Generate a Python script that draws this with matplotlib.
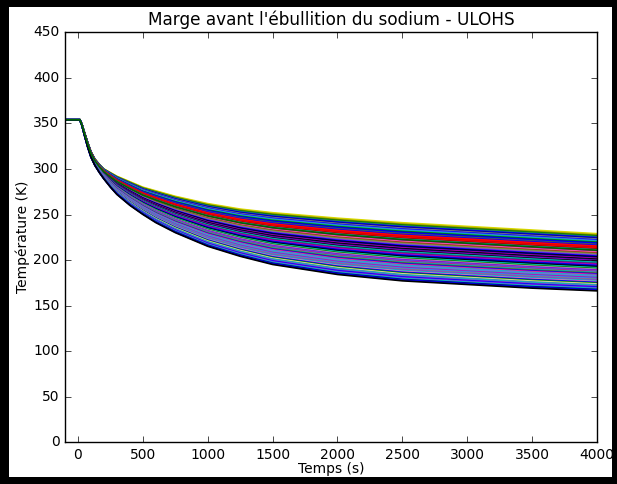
import numpy as np
import matplotlib
matplotlib.use('Agg')
import matplotlib.pyplot as plt
from matplotlib.patches import Rectangle

plt.style.use('classic')

# envelope of the curve family
times = [-100, 0, 15, 30, 50, 75, 100, 130, 165, 200, 250, 300, 400, 500, 600, 750,
         1000, 1250, 1500, 2000, 2500, 3000, 3500, 4000]
upper = [354, 354, 354, 349, 340, 329, 319, 311, 305, 300, 296, 292, 286, 280, 276, 270,
         262, 256, 252, 246, 241, 237, 233, 229]
lower = [354, 354, 354, 348, 337, 324, 313, 304, 296, 289, 280, 272, 260, 250, 241, 230,
         215, 204, 195, 184, 177, 173, 169, 166]

# temperature reached by each run at t = 4000 s (top to bottom) and its colour
finals = [229, 228.2, 227.3, 226.5, 225.6, 224.8, 223.9, 223.1, 222.2, 221.4, 220.5, 219.7,
          218.8, 218, 217.1, 216.3,
          215.4, 214.6, 213.7, 212.9, 212, 211.2, 210.3, 209.5, 208.6, 207.8, 206.9, 206.1,
          205.2,
          204.4, 203.5, 202.7, 201.8, 201, 200.1, 199.3, 198.4, 197.6, 196.7, 195.9, 195,
          194.2, 193.3, 192.5, 191.6, 190.8,
          189.9, 189.1, 188.2, 187.4, 186.5, 185.7, 184.8, 184, 183.1, 182.3, 181.4, 180.6,
          179.7, 178.9, 178, 177.2, 176.3, 175.5, 174.6, 173.8, 172.9, 172.1, 171.2, 170.4,
          169.5, 168.7, 167.8, 167, 166.2,
          210.8]
colors = ['#dddd00', '#c8c800', '#808000', 'g', '#2e8b57', 'b', '#000080', '#808080', 'b',
          '#4169e1', 'c', 'g', '#0000cd', 'b', '#556b2f', 'b',
          'r', 'r', '#cc0000', 'r', '#8b0000', 'c', 'r', 'm', '#ff69b4', '#b22222', '#6b8e23',
          '#808080', '#8a2be2',
          'b', 'k', '#000080', 'm', 'k', '#191970', '#9400d3', 'k', 'c', '#008080', '#800080',
          'm', 'b', '#00008b', 'k', '#00ced1', 'g',
          '#a9a9a9', '#9400d3', '#4169e1', '#c71585', 'c', '#556b2f', 'b', '#ff1493', 'c',
          '#7b68ee', '#20b2aa', 'm', '#1e90ff', '#808080', '#9932cc', 'c', '#ff69b4', 'b',
          'g', '#f0e68c', '#4682b4', 'c', '#9932cc', 'b', '#8a2be2', 'c', '#000080', 'b', 'k',
          '#006400']

t = np.array(times)
up = np.array(upper, dtype=float)
lo = np.array(lower, dtype=float)

fig = plt.figure(figsize=(6.17, 4.84), dpi=100)
fig.patch.set_facecolor('black')
fig.add_artist(Rectangle((9 / 617, 7 / 484), (617 - 14) / 617, (484 - 14) / 484,
                         transform=fig.transFigure, facecolor='white', edgecolor='none', zorder=-1))
ax = fig.add_axes([65 / 617, 41.7 / 484, 532 / 617, 410 / 484])

for f, c in zip(finals, colors):
    frac = (f - lo[-1]) / (up[-1] - lo[-1])
    ax.plot(t, lo + frac * (up - lo), color=c, lw=1.2)

ax.set_xlim(-100, 4000)
ax.set_ylim(0, 450)
ax.set_xticks(np.arange(0, 4001, 500))
ax.set_yticks(np.arange(0, 451, 50))
ax.tick_params(labelsize=10)
ax.set_title("Marge avant l'ébullition du sodium - ULOHS", fontsize=12.2, y=1.0)
ax.set_xlabel('Temps (s)', fontsize=10, labelpad=0)
ax.set_ylabel('Température (K)', fontsize=10, labelpad=2)

fig.savefig('out.png', dpi=100, facecolor=fig.get_facecolor())
